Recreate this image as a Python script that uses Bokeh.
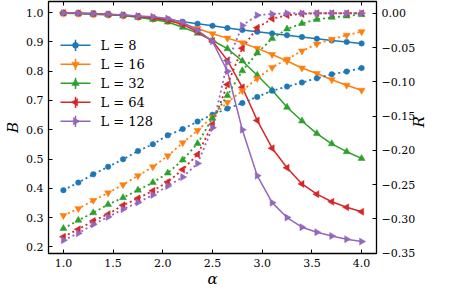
from math import pi
from bokeh.plotting import figure
from bokeh.models import (Range1d, LinearAxis, FixedTicker, PrintfTickFormatter,
                          CustomJSTickFormatter, CustomLabelingPolicy, ColumnDataSource)
from bokeh.core.properties import value
from bokeh.embed import file_html
from bokeh.resources import INLINE

alpha = [1.0, 1.15, 1.3, 1.45, 1.6, 1.75, 1.9, 2.05, 2.2, 2.35, 2.5,
         2.65, 2.8, 2.95, 3.1, 3.25, 3.4, 3.55, 3.7, 3.85, 4.0]
sizes = [8, 16, 32, 64, 128]

B_L8 = [0.999, 0.998, 0.997, 0.995, 0.992, 0.988, 0.983, 0.977, 0.969, 0.962, 0.955,
        0.948, 0.941, 0.935, 0.929, 0.923, 0.917, 0.911, 0.905, 0.900, 0.895]
B_L16 = [0.998, 0.997, 0.995, 0.993, 0.990, 0.985, 0.979, 0.972, 0.962, 0.946, 0.928,
         0.913, 0.897, 0.878, 0.857, 0.835, 0.811, 0.792, 0.771, 0.752, 0.735]
B_L32 = [0.998, 0.997, 0.995, 0.993, 0.990, 0.984, 0.977, 0.968, 0.950, 0.930, 0.905,
         0.877, 0.835, 0.786, 0.735, 0.677, 0.630, 0.587, 0.552, 0.525, 0.502]
B_L64 = [0.999, 0.998, 0.996, 0.994, 0.991, 0.987, 0.982, 0.974, 0.960, 0.935, 0.903,
         0.837, 0.745, 0.632, 0.537, 0.470, 0.415, 0.380, 0.354, 0.335, 0.320]
B_L128 = [0.999, 0.998, 0.996, 0.995, 0.992, 0.989, 0.986, 0.980, 0.967, 0.940, 0.902,
          0.800, 0.600, 0.443, 0.351, 0.300, 0.267, 0.250, 0.237, 0.226, 0.218]

R_L8 = [-0.258, -0.247, -0.235, -0.224, -0.213, -0.201, -0.191, -0.178, -0.169, -0.158, -0.148,
        -0.139, -0.131, -0.122, -0.113, -0.107, -0.101, -0.095, -0.089, -0.085, -0.080]
R_L16 = [-0.295, -0.285, -0.273, -0.262, -0.250, -0.237, -0.224, -0.208, -0.189, -0.171, -0.151,
         -0.130, -0.113, -0.095, -0.079, -0.067, -0.055, -0.045, -0.038, -0.032, -0.027]
R_L32 = [-0.314, -0.302, -0.291, -0.279, -0.269, -0.258, -0.247, -0.233, -0.214, -0.190, -0.153,
         -0.120, -0.084, -0.058, -0.037, -0.023, -0.015, -0.009, -0.006, -0.004, -0.002]
R_L64 = [-0.326, -0.315, -0.303, -0.293, -0.280, -0.270, -0.259, -0.246, -0.228, -0.206, -0.162,
         -0.104, -0.051, -0.021, -0.008, -0.003, -0.001, 0.000, 0.000, 0.000, 0.000]
R_L128 = [-0.331, -0.321, -0.308, -0.297, -0.286, -0.276, -0.265, -0.252, -0.239, -0.219, -0.167,
          -0.072, -0.018, -0.003, -0.001, 0.000, 0.000, 0.000, 0.000, 0.000, 0.000]

B_series = [B_L8, B_L16, B_L32, B_L64, B_L128]
R_series = [R_L8, R_L16, R_L32, R_L64, R_L128]
colors = ["#1f77b4", "#ff7f0e", "#2ca02c", "#d62728", "#9467bd"]
markers = ["circle", "inverted_triangle", "triangle", "triangle", "triangle"]
angles = [0, 0, 0, pi / 2, -pi / 2]
msizes = [5.5, 7, 7, 7, 7]
legend_labels = [f"L = {L}" for L in sizes]

x_ticks = [1.0, 1.5, 2.0, 2.5, 3.0, 3.5, 4.0]
B_ticks = [0.2, 0.3, 0.4, 0.5, 0.6, 0.7, 0.8, 0.9, 1.0]
R_ticks = [-0.35, -0.30, -0.25, -0.20, -0.15, -0.10, -0.05, 0.0]

FONT = "DejaVu Serif"
TICK_FS = "11px"
B_LO, B_HI = 0.1772, 1.0382
R_LO, R_HI = -0.3504, 0.0171

# approximate frame box in figure pixels (used only to place the legend keys)
FX0, FX1, FY0, FY1 = 48, 376, 1, 248

p = figure(width=440, height=290, output_backend="svg", toolbar_location=None,
           x_range=Range1d(0.85, 4.15), y_range=Range1d(B_LO, B_HI),
           min_border_left=48, min_border_right=30, min_border_top=1, min_border_bottom=30,
           background_fill_color="white", border_fill_color="white")
p.extra_y_ranges = {"R": Range1d(R_LO, R_HI), "py": Range1d(FY1, FY0)}
p.extra_x_ranges = {"px": Range1d(FX0, FX1)}
p.grid.visible = False
p.outline_line_color = "black"
p.outline_line_width = 1.3


def style_axis(ax, show_labels=True):
    ax.axis_line_color = None
    ax.major_tick_in = 4
    ax.major_tick_out = 0
    ax.major_tick_line_color = "black"
    ax.major_tick_line_width = 1
    ax.minor_tick_line_color = None
    ax.major_label_text_font = FONT
    ax.major_label_text_font_size = TICK_FS
    ax.major_label_text_color = "black"
    ax.axis_label_text_font = FONT
    ax.axis_label_text_font_style = "italic"
    ax.axis_label_text_font_size = "15px"
    ax.axis_label_text_color = "black"
    if not show_labels:
        ax.major_label_policy = CustomLabelingPolicy(code="")


xb = p.below[0]
style_axis(xb)
xb.ticker = FixedTicker(ticks=x_ticks)
xb.formatter = PrintfTickFormatter(format="%.1f")
xb.major_label_standoff = 5
xb.axis_label = "α"
xb.axis_label_standoff = 0

yl = p.left[0]
style_axis(yl)
yl.ticker = FixedTicker(ticks=B_ticks)
yl.formatter = PrintfTickFormatter(format="%.1f")
yl.major_label_standoff = 5
yl.axis_label = "B"
yl.axis_label_standoff = 1

yr = LinearAxis(y_range_name="R", ticker=FixedTicker(ticks=R_ticks),
                formatter=CustomJSTickFormatter(code="""
                    const s = Math.abs(tick).toFixed(2);
                    return (tick < -1e-9 ? "\\u2212" : "") + s;
                """))
style_axis(yr)
yr.major_label_standoff = 5
yr.axis_label = "R"
yr.axis_label_standoff = 1
yr.axis_label_orientation = pi / 2
p.add_layout(yr, "right")

xt = LinearAxis(ticker=FixedTicker(ticks=x_ticks), fixed_location=B_HI)
style_axis(xt, show_labels=False)
xt.major_label_standoff = 0
p.add_layout(xt, "above")

# B (solid lines, left axis)
for ys, c, m, a, ms in zip(B_series, colors, markers, angles, msizes):
    p.line(alpha, ys, line_color=c, line_width=1.5)
    p.scatter(alpha, ys, marker=m, angle=a, size=ms, fill_color=c, line_color=c, line_width=0.5)

# R (dotted lines, right axis)
for ys, c, m, a, ms in zip(R_series, colors, markers, angles, msizes):
    p.line(alpha, ys, line_color=c, line_width=1.8, line_dash="2 3", y_range_name="R")
    p.scatter(alpha, ys, marker=m, angle=a, size=ms, fill_color=c, line_color=c,
              line_width=0.5, y_range_name="R")

# legend (errorbar style keys: line + vertical bar + marker), one row per L
KEY_X0, KEY_X1, KEY_TEXT_X = 60, 90, 100
ROW0, ROW_STEP, BAR_HALF = 44, 18.6, 5.5
for row, (c, m, a, ms) in enumerate(zip(colors, markers, angles, msizes)):
    yk = ROW0 + ROW_STEP * row
    xm = (KEY_X0 + KEY_X1) / 2
    p.line([KEY_X0, KEY_X1], [yk, yk], line_color=c, line_width=1.5,
           x_range_name="px", y_range_name="py")
    p.segment(x0=[xm], y0=[yk - BAR_HALF], x1=[xm], y1=[yk + BAR_HALF], line_color=c,
              line_width=1.5, x_range_name="px", y_range_name="py")
    p.scatter([xm], [yk], marker=m, angle=a, size=ms + 0.5, fill_color=c, line_color=c,
              line_width=0.5, x_range_name="px", y_range_name="py")

key_src = ColumnDataSource(dict(x=[KEY_TEXT_X] * len(sizes),
                                y=[ROW0 + ROW_STEP * i for i in range(len(sizes))],
                                text=legend_labels))
p.text(x="x", y="y", text="text", source=key_src, text_font=value(FONT),
       text_font_size="13px", text_baseline="middle", text_align="left",
       text_color="black", x_range_name="px", y_range_name="py")

open("out.html", "w").write(file_html(p, INLINE))
